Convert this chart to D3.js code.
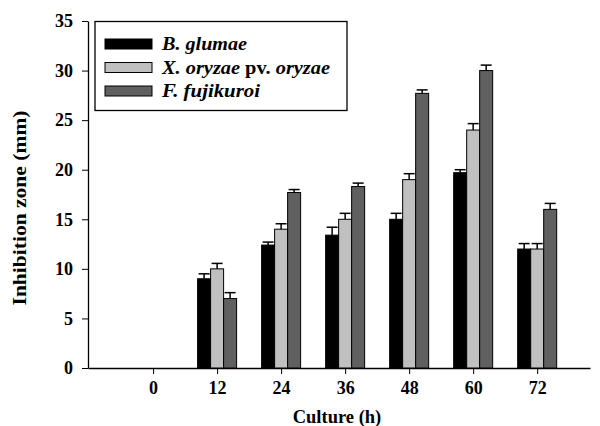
<!DOCTYPE html>
<html><head><meta charset="utf-8">
<script src="https://cdn.jsdelivr.net/npm/d3@7"></script>
<style>body{margin:0;background:#fff}svg{display:block}text{font-family:"Liberation Serif","Times New Roman",serif;font-weight:bold}</style>
</head><body><svg id="c" width="600" height="426"></svg>
<script>
const hours = [0, 12, 24, 36, 48, 60, 72];
const seriesNames = ["B. glumae", "X. oryzae pv. oryzae", "F. fujikuroi"];
const glumae = [0, 9.0, 12.4, 13.4, 15.0, 19.7, 12.0];
const glumaeErr = [0, 0.5, 0.3, 0.8, 0.6, 0.3, 0.55];
const oryzae = [0, 10.0, 14.0, 15.0, 19.0, 24.0, 12.0];
const oryzaeErr = [0, 0.55, 0.55, 0.6, 0.6, 0.65, 0.55];
const fujikuroi = [0, 7.0, 17.7, 18.3, 27.7, 30.0, 16.0];
const fujikuroiErr = [0, 0.6, 0.3, 0.35, 0.35, 0.55, 0.6];
const yTicks = [0, 5, 10, 15, 20, 25, 30, 35];
const colors = ["#000000", "#c0c0c0", "#606060"];
const legendTextWidths = [85, 168, 98];

const values = [glumae, oryzae, fujikuroi];
const errs = [glumaeErr, oryzaeErr, fujikuroiErr];

const svg = d3.select("#c");
const x = d3.scaleLinear().domain([-12.2, 81.9]).range([88, 590]);
const y = d3.scaleLinear().domain([0, 35]).range([368, 21]);
const inner = d3.scaleBand().domain(seriesNames).range([-19.5, 19.5]);

// axes
const xAxis = d3.axisBottom(x).tickValues(hours).tickSize(6).tickPadding(4).tickSizeOuter(0);
const gx = svg.append("g").attr("transform", "translate(0,368)").call(xAxis);
gx.select(".domain").attr("stroke", "#000").attr("stroke-width", 1.3);
gx.selectAll("text").attr("font-size", 18).attr("fill", "#000").attr("dy", "0.9em");

const yAxis = d3.axisLeft(y).tickValues(yTicks).tickSize(6).tickPadding(9).tickSizeOuter(0);
const gy = svg.append("g").attr("transform", "translate(88,0)").call(yAxis);
gy.select(".domain").attr("stroke", "#000").attr("stroke-width", 1.3);
gy.selectAll("text").attr("font-size", 18).attr("fill", "#000");

// bars
const data = [];
seriesNames.forEach((s, si) => hours.forEach((h, hi) => {
  if (values[si][hi] > 0) data.push({s, si, h, v: values[si][hi], e: errs[si][hi]});
}));
const g = svg.append("g");
g.selectAll("rect.bar").data(data).enter().append("rect")
  .attr("x", d => x(d.h) + inner(d.s))
  .attr("y", d => y(d.v))
  .attr("width", inner.bandwidth())
  .attr("height", d => y(0) - y(d.v))
  .attr("fill", d => colors[d.si])
  .attr("stroke", "#000").attr("stroke-width", 1);
// error bars
const eg = g.selectAll("g.err").data(data).enter().append("g").attr("stroke", "#000").attr("stroke-width", 1.5);
eg.append("line")
  .attr("x1", d => x(d.h) + inner(d.s) + inner.bandwidth() / 2)
  .attr("x2", d => x(d.h) + inner(d.s) + inner.bandwidth() / 2)
  .attr("y1", d => y(d.v)).attr("y2", d => y(d.v + d.e));
eg.append("line")
  .attr("x1", d => x(d.h) + inner(d.s) + 1)
  .attr("x2", d => x(d.h) + inner(d.s) + inner.bandwidth() - 1)
  .attr("y1", d => y(d.v + d.e)).attr("y2", d => y(d.v + d.e));

// legend
const lg = svg.append("g");
lg.append("rect").attr("x", 95).attr("y", 21.5).attr("width", 252).attr("height", 89)
  .attr("fill", "#fff").attr("stroke", "#000").attr("stroke-width", 1.3);
seriesNames.forEach((s, i) => {
  const cy = 44 + i * 23.5;
  lg.append("rect").attr("x", 105).attr("y", cy - 5).attr("width", 47).attr("height", 10)
    .attr("fill", colors[i]).attr("stroke", "#000").attr("stroke-width", 1);
  const t = lg.append("text").attr("x", 162).attr("y", cy + 6).attr("font-size", 18).attr("fill", "#000")
    .attr("textLength", legendTextWidths[i]).attr("lengthAdjust", "spacingAndGlyphs");
  if (s.includes(" pv. ")) {
    const parts = s.split(" pv. ");
    t.append("tspan").attr("font-style", "italic").text(parts[0] + " ");
    t.append("tspan").text("pv. ");
    t.append("tspan").attr("font-style", "italic").text(parts[1]);
  } else {
    t.append("tspan").attr("font-style", "italic").text(s);
  }
});

// titles
svg.append("text").attr("x", 337).attr("y", 423).attr("text-anchor", "middle").attr("font-size", 18.5).attr("fill", "#000").text("Culture (h)");
svg.append("text").attr("transform", "translate(26,208) rotate(-90)").attr("text-anchor", "middle").attr("font-size", 18.5).attr("fill", "#000")
  .attr("textLength", 195).attr("lengthAdjust", "spacingAndGlyphs").text("Inhibition zone (mm)");
</script></body></html>
